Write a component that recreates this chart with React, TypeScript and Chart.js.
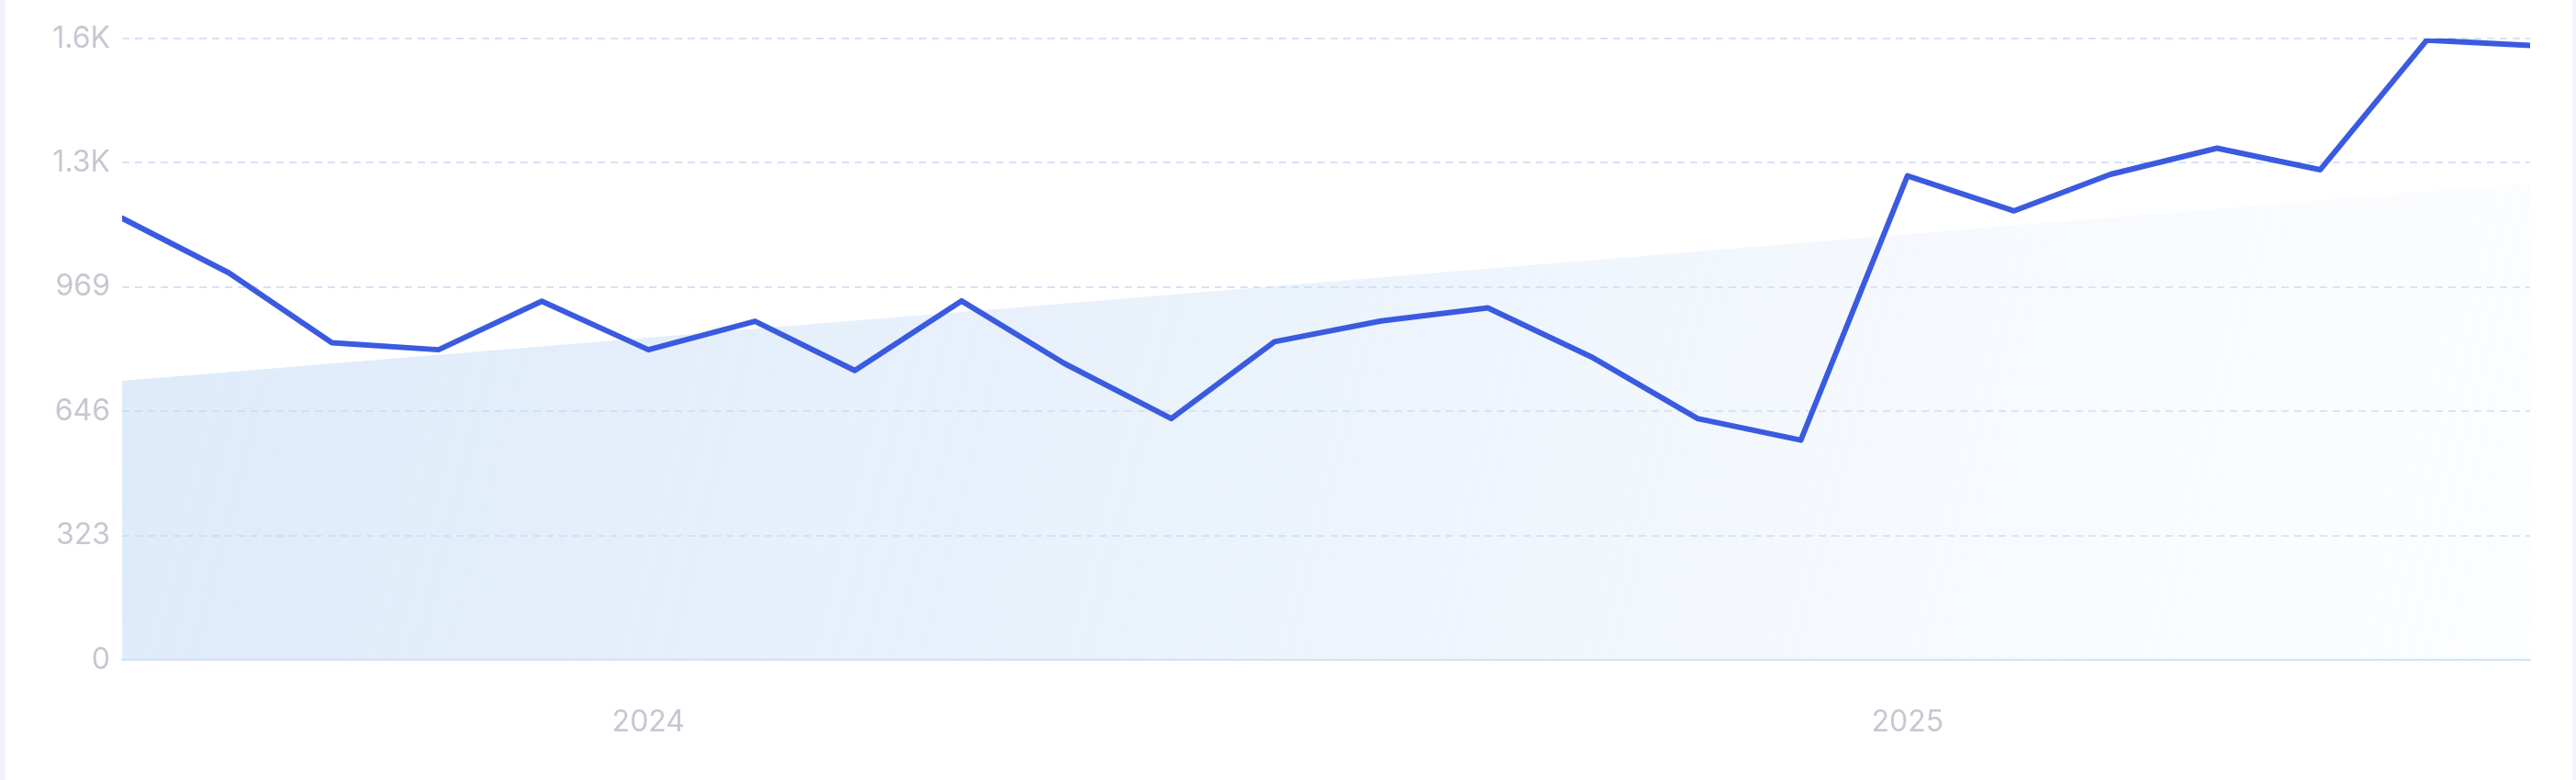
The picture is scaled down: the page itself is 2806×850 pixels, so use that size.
import React, { useEffect, useRef } from 'react';
import { Chart, registerables } from 'chart.js';

Chart.register(...registerables);

// monthly values, first day of each month
const months = [
  '2023-08', '2023-09', '2023-10', '2023-11', '2023-12',
  '2024-01', '2024-02', '2024-03', '2024-04', '2024-05', '2024-06',
  '2024-07', '2024-08', '2024-09', '2024-10', '2024-11', '2024-12',
  '2025-01', '2025-02', '2025-03', '2025-04', '2025-05', '2025-06', '2025-07',
];
const volume = [
  1148, 1006, 824, 806, 932,
  806, 880, 752, 933, 770, 627,
  827, 881, 915, 788, 627, 571,
  1258, 1167, 1262, 1330, 1274, 1611, 1597,
];
// trend line, start and end value
const trend = [725, 1239];
const yearTicks = ['2024-01', '2025-01'];
const yMax = 1615;
const yStep = 323;

const toTime = (m: string) => {
  const [y, mo] = m.split('-').map(Number);
  return Date.UTC(y, mo - 1, 1);
};

const fmtY = (v: number) => (v >= 1000 ? (v / 1000).toFixed(1) + 'K' : String(v));

const TrendChart: React.FC = () => {
  const canvasRef = useRef<HTMLCanvasElement>(null);

  useEffect(() => {
    const ctx = canvasRef.current?.getContext('2d');
    if (!ctx) return;

    const first = toTime(months[0]);
    const last = toTime(months[months.length - 1]);

    const chart = new Chart(ctx, {
      type: 'line',
      data: {
        datasets: [
          {
            label: 'Volume',
            data: months.map((m, i) => ({ x: toTime(m), y: volume[i] })),
            borderColor: '#3a5bdf',
            borderWidth: 6,
            pointRadius: 0,
            tension: 0,
            fill: false,
            borderJoinStyle: 'round',
            borderCapStyle: 'round',
          },
          {
            label: 'Trend',
            data: [
              { x: first, y: trend[0] },
              { x: last, y: trend[1] },
            ],
            borderWidth: 0,
            borderColor: 'rgba(0,0,0,0)',
            pointRadius: 0,
            fill: 'origin',
            backgroundColor: (c: any) => {
              const area = c.chart.chartArea;
              if (!area) return 'rgba(200,222,246,0.5)';
              const g = c.chart.ctx.createLinearGradient(area.left, area.top, area.right, area.bottom);
              g.addColorStop(0, 'rgba(196,219,245,0.58)');
              g.addColorStop(0.5, 'rgba(206,225,247,0.4)');
              g.addColorStop(1, 'rgba(235,243,253,0.12)');
              return g;
            },
          },
        ],
      },
      options: {
        animation: false,
        responsive: true,
        maintainAspectRatio: false,
        layout: { padding: { top: 42, right: 46, left: 0, bottom: 0 } },
        plugins: {
          legend: { display: false },
          tooltip: { enabled: false },
        },
        scales: {
          x: {
            type: 'linear',
            min: first,
            max: last,
            afterFit: (s: any) => {
              s.height = 131;
            },
            afterBuildTicks: (s: any) => {
              s.ticks = yearTicks.map((m) => ({ value: toTime(m) }));
            },
            ticks: {
              padding: 49,
              color: '#c6c7d1',
              font: { family: 'Inter', size: 32 },
              callback: (v: any) => String(new Date(Number(v)).getUTCFullYear()),
              maxRotation: 0,
            },
            grid: { display: false, drawTicks: false },
            border: { display: true, color: '#d3e1f8', width: 2 },
          },
          y: {
            min: 0,
            max: yMax,
            afterFit: (s: any) => {
              s.width = 127;
            },
            ticks: {
              stepSize: yStep,
              padding: 13,
              color: '#c6c7d1',
              font: { family: 'Inter', size: 32 },
              callback: (v: any) => fmtY(Number(v)),
            },
            grid: { color: '#d6e2f8', lineWidth: 2, drawTicks: false },
            border: { display: false, dash: [8, 6] },
          },
        },
      },
    });

    return () => chart.destroy();
  }, []);

  return <canvas ref={canvasRef} />;
};

export default function App() {
  useEffect(() => {
    document.body.style.margin = '0';
    document.body.style.background = '#f0f4fa';
  }, []);
  return (
    <div style={{ marginLeft: 6, marginRight: 4, height: 850, background: '#ffffff', position: 'relative' }}>
      <TrendChart />
    </div>
  );
}
